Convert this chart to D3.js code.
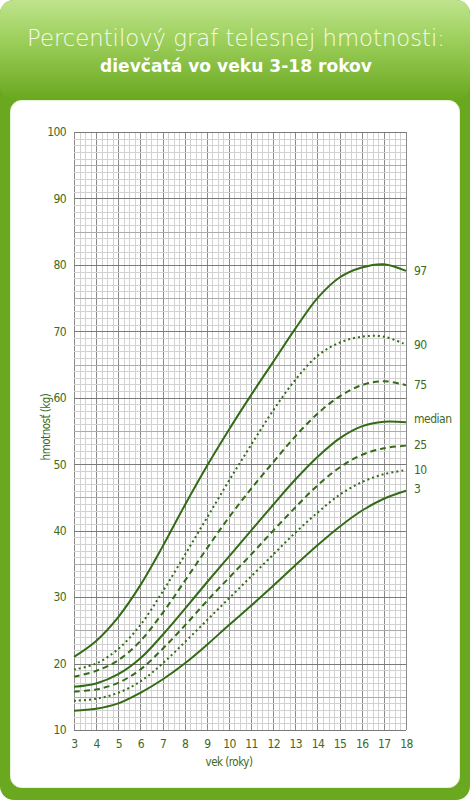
<!DOCTYPE html>
<html><head><meta charset="utf-8">
<script src="https://cdn.jsdelivr.net/npm/d3@7/dist/d3.min.js"></script>
<style>html,body{margin:0;padding:0;background:#fff;}</style>
</head><body>
<svg id="chart" width="470" height="800"></svg>
<script>
// ---- data ----
const ages = [3,4,5,6,7,8,9,10,11,12,13,14,15,16,17,18];
const p97    = [21.0,23.4,27.0,31.8,37.6,43.8,49.7,55.2,60.4,65.4,70.4,75.0,78.1,79.6,80.1,79.1];
const p90    = [19.1,20.0,22.2,25.8,30.8,36.3,41.9,47.5,52.9,58.1,62.7,66.3,68.3,69.2,69.2,68.0];
const p75    = [18.0,18.9,20.5,23.4,27.6,32.4,37.3,42.0,46.3,50.3,54.2,57.6,60.2,61.9,62.5,61.9];
const p50    = [16.5,17.0,18.4,20.8,24.3,28.2,32.2,36.1,40.0,43.9,47.7,51.1,53.9,55.7,56.4,56.3];
const p25    = [15.8,16.1,17.1,19.1,22.2,25.7,29.4,32.9,36.4,40.0,43.5,46.8,49.5,51.4,52.4,52.8];
const p10    = [14.4,14.7,15.6,17.3,20.0,23.2,26.5,29.8,33.1,36.4,39.7,42.7,45.4,47.3,48.5,49.1];
const p3     = [12.9,13.2,14.0,15.6,17.6,20.0,22.8,25.8,28.7,31.7,34.8,37.8,40.6,43.0,44.8,46.0];
const seriesLabels = ["97","90","75","median","25","10","3"];
const seriesValues = [p97,p90,p75,p50,p25,p10,p3];
const seriesDash = ["solid","dotted","dashed","solid","dashed","dotted","solid"];
const xTicks = [3,4,5,6,7,8,9,10,11,12,13,14,15,16,17,18];
const yTicks = [10,20,30,40,50,60,70,80,90,100];
const title1 = "Percentilový graf telesnej hmotnosti:";
const title2 = "dievčatá vo veku 3-18 rokov";
const xTitle = "vek (roky)";
const yTitle = "hmotnosť (kg)";

// ---- drawing ----
const svg = d3.select("#chart");
const W = 470, H = 800;
const defs = svg.append("defs");
const g1 = defs.append("linearGradient").attr("id","hdr").attr("x1",0).attr("y1",0).attr("x2",0).attr("y2",1);
g1.append("stop").attr("offset","0%").attr("stop-color","#bfe48c");
g1.append("stop").attr("offset","40%").attr("stop-color","#9dcf5c");
g1.append("stop").attr("offset","100%").attr("stop-color","#6aa81f");

svg.append("rect").attr("x",0).attr("y",0).attr("width",W).attr("height",H).attr("rx",14).attr("fill","#6aa81f");
svg.append("rect").attr("x",0).attr("y",0).attr("width",W).attr("height",100).attr("rx",14).attr("fill","url(#hdr)");
svg.append("rect").attr("x",10.5).attr("y",100.5).attr("width",449).attr("height",687).attr("rx",11)
  .attr("fill","#ffffff").attr("stroke","#e9f3dc").attr("stroke-width",1);

svg.append("text").attr("x",236).attr("y",46).attr("text-anchor","middle")
  .attr("font-family","'DejaVu Sans', sans-serif").attr("font-weight",200).attr("font-size",23)
  .attr("fill","#f6fbef").attr("textLength",418).attr("lengthAdjust","spacingAndGlyphs").text(title1);
svg.append("text").attr("x",236).attr("y",72).attr("text-anchor","middle")
  .attr("font-family","'DejaVu Sans', sans-serif").attr("font-weight",700).attr("font-size",17)
  .attr("fill","#ffffff").attr("textLength",272).attr("lengthAdjust","spacingAndGlyphs").text(title2);

const x = d3.scaleLinear().domain([3,18]).range([74,406]);
const y = d3.scaleLinear().domain([10,100]).range([730,132]);

const grid = svg.append("g");
grid.selectAll("line.mv").data(d3.range(0,61).map(i=>3+i*0.25)).join("line")
  .attr("x1",d=>Math.round(x(d))+0.5).attr("x2",d=>Math.round(x(d))+0.5)
  .attr("y1",y(100)).attr("y2",y(10))
  .attr("stroke",(d,i)=> i%4===0 ? "#8a8a8a" : "#d2d2d2").attr("stroke-width",1);
grid.selectAll("line.mh").data(d3.range(0,91).map(i=>10+i)).join("line")
  .attr("y1",d=>Math.round(y(d))+0.5).attr("y2",d=>Math.round(y(d))+0.5)
  .attr("x1",x(3)).attr("x2",x(18))
  .attr("stroke",(d)=> d%10===0 ? "#7a7a7a" : (d%5===0 ? "#acacac" : "#d2d2d2")).attr("stroke-width",1);

// axes
const tickFont = "'DejaVu Sans Condensed','DejaVu Sans',sans-serif";
const yAxis = svg.append("g").attr("transform",`translate(${x(3)},0)`)
  .call(d3.axisLeft(y).tickValues(yTicks).tickSize(0).tickPadding(8));
const xAxis = svg.append("g").attr("transform",`translate(0,${y(10)})`)
  .call(d3.axisBottom(x).tickValues(xTicks).tickSize(0).tickPadding(9));
[yAxis,xAxis].forEach(a=>{
  a.select(".domain").remove();
  a.selectAll("text").attr("font-family",tickFont).attr("font-stretch","condensed")
    .attr("font-size",12).attr("letter-spacing",-0.6).attr("fill","#3d6a1c");
});

svg.append("text").attr("x",229).attr("y",766).attr("text-anchor","middle")
  .attr("font-family",tickFont).attr("font-stretch","condensed").attr("letter-spacing",-0.5)
  .attr("font-size",11.5).attr("fill","#3d6a1c").text(xTitle);
svg.append("text").attr("transform","translate(50,427) rotate(-90)").attr("text-anchor","middle")
  .attr("font-family",tickFont).attr("font-stretch","condensed").attr("letter-spacing",-0.5)
  .attr("font-size",11.5).attr("fill","#3d6a1c").text(yTitle);

// curves
const line = d3.line().x(d=>x(d[0])).y(d=>y(d[1])).curve(d3.curveCatmullRom.alpha(0.5));
const dashMap = {solid:null, dotted:"2,3", dashed:"6,4"};
const curves = svg.append("g");
seriesValues.forEach((vals,i)=>{
  const pts = ages.map((a,j)=>[a,vals[j]]);
  curves.append("path").attr("d",line(pts)).attr("fill","none")
    .attr("stroke","#336b17").attr("stroke-width",2)
    .attr("stroke-dasharray",dashMap[seriesDash[i]]);
});
// series labels at right
svg.append("g").selectAll("text").data(seriesLabels).join("text")
  .attr("x",414).attr("y",(d,i)=>y(seriesValues[i][seriesValues[i].length-1]) + 4)
  .attr("font-family",tickFont).attr("font-stretch","condensed").attr("letter-spacing",-0.5)
  .attr("font-size",12).attr("fill","#3d6a1c")
  .attr("dy",(d,i)=> [0,0.5,0,-3,-1,-0.5,-2][i])
  .text(d=>d);
</script>
</body></html>
